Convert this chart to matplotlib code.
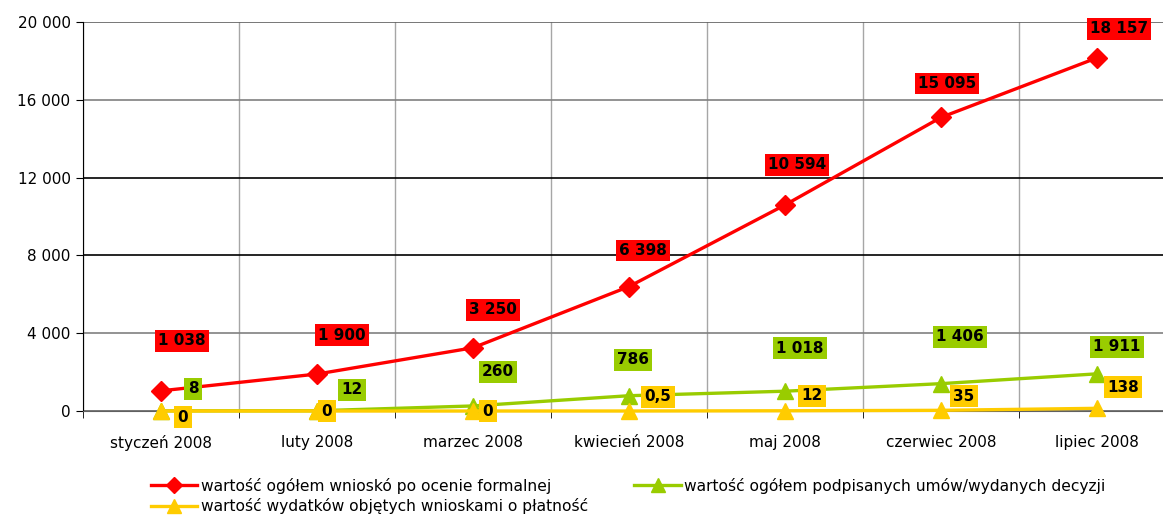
import matplotlib.pyplot as plt
from matplotlib.ticker import FixedLocator

# dane
miesiace = ["styczeń 2008", "luty 2008", "marzec 2008", "kwiecień 2008",
            "maj 2008", "czerwiec 2008", "lipiec 2008"]
wnioski = [1038, 1900, 3250, 6398, 10594, 15095, 18157]
umowy = [8, 12, 260, 786, 1018, 1406, 1911]
wydatki = [0, 0, 0, 0.5, 12, 35, 138]

# przesuniecia etykiet (px)
off_wnioski = [(21, 50), (25, 39), (20, 38), (14, 36), (12, 40), (6, 34), (22, 29)]
off_umowy = [(32, 22), (35, 21), (25, 34), (4, 36), (15, 43), (19, 47), (20, 27)]
off_wydatki = [(22, -6), (10, 0), (15, 0), (29, 14), (27, 15), (23, 14), (26, 21)]

RED = "#FF0000"
GREEN = "#99CC00"
YELLOW = "#FFCC00"


def fmt(v):
    if v == int(v):
        return f"{int(v):,}".replace(",", " ")
    return str(v).replace(".", ",")


fig = plt.figure(figsize=(11.63, 5.16), dpi=100)
ax = fig.add_axes([83 / 1163, 1 - 411 / 516, (1175 - 83) / 1163, (411 - 22) / 516])

x = list(range(len(miesiace)))
l_red, = ax.plot(x, wnioski, color=RED, lw=2.4, marker="D", ms=10, zorder=5, clip_on=False)
l_green, = ax.plot(x, umowy, color=GREEN, lw=2.4, marker="^", ms=12, zorder=3, clip_on=False)
l_yel, = ax.plot(x, wydatki, color=YELLOW, lw=2.4, marker="^", ms=12, zorder=4, clip_on=False)

for vals, offs, col in [(wnioski, off_wnioski, RED), (umowy, off_umowy, GREEN),
                        (wydatki, off_wydatki, YELLOW)]:
    for i, (v, o) in enumerate(zip(vals, offs)):
        ax.annotate(fmt(v), (i, v), xytext=o, textcoords="offset pixels",
                    ha="center", va="center", fontsize=11, fontweight="bold",
                    color="black", zorder=10,
                    bbox=dict(boxstyle="square,pad=0.22", fc=col, ec="none"))

ax.set_xlim(-0.5, 6.5)
ax.set_ylim(0, 20000)
ax.set_yticks([0, 4000, 8000, 12000, 16000, 20000])
ax.set_yticklabels([fmt(v) for v in [0, 4000, 8000, 12000, 16000, 20000]], fontsize=11)
ax.set_xticks(x)
ax.set_xticklabels(miesiace, fontsize=11)
ax.xaxis.set_minor_locator(FixedLocator([i + 0.5 for i in range(-1, 7)]))
ax.tick_params(axis="x", which="major", length=0, pad=17)
ax.tick_params(axis="x", which="minor", length=5, color="black")
ax.tick_params(axis="y", length=5, pad=4)

ax.grid(axis="x", which="minor", color="#A6A6A6", lw=1)
ax.grid(axis="y", color="#808080", lw=1.2)
for gl, c in zip(ax.yaxis.get_gridlines(), ["#606060", "#808080", "black", "black", "#808080", "#606060"]):
    gl.set_color(c)
ax.set_axisbelow(True)
for s in ["top", "right"]:
    ax.spines[s].set_visible(False)
ax.spines["bottom"].set_color("#606060")
ax.spines["left"].set_color("black")

fig.legend([l_red, l_yel, l_green],
           ["wartość ogółem wnioskó po ocenie formalnej",
            "wartość wydatków objętych wnioskami o płatność",
            "wartość ogółem podpisanych umów/wydanych decyzji"],
           ncol=2, loc="upper left", bbox_to_anchor=(143 / 1163, 1 - 470 / 516),
           frameon=False, fontsize=11.2, handlelength=3.0, columnspacing=3.0,
           labelspacing=0.3, handletextpad=0.2, borderpad=0, markerscale=0.8)

fig.savefig("out.png", dpi=100)
